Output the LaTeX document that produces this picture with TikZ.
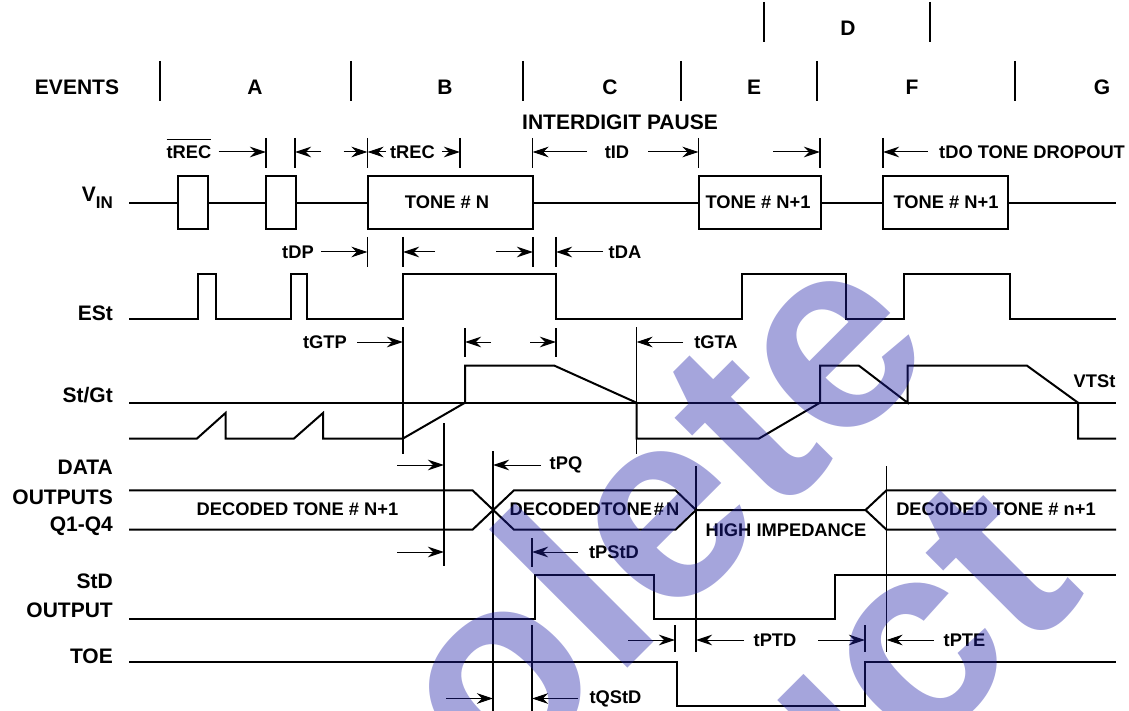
\documentclass[tikz,border=0pt]{standalone}
\usepackage{fontspec}
\setmainfont{Liberation Sans}
\usepackage{xcolor}
\usetikzlibrary{arrows.meta}
\definecolor{stampblue}{RGB}{30,30,167}
\tikzset{
    biglabel/.style={font=\bfseries\fontsize{21}{24}\selectfont, inner sep=0pt},
    siglabel/.style={biglabel, anchor=east},
    timelabel/.style={font=\bfseries\fontsize{18.3}{22}\selectfont, inner sep=0pt},
    wave/.style={line width=2pt, line join=miter},
    tick/.style={line width=1.5pt},
    eventtick/.style={line width=2pt},
    timearrow/.style={line width=1pt, -{Stealth[length=16pt, width=10.5pt, inset=5pt]}},
    stamp/.style={font=\bfseries\fontsize{270}{275}\selectfont, inner sep=0pt, anchor=base west, rotate=45, text=stampblue, text opacity=0.4}
}

\begin{document}
\begin{tikzpicture}[x=1pt, y=-1pt]
    \useasboundingbox (0, 0) rectangle (1129, 711);
    \clip (0, 0) rectangle (1129, 711);

    % event ticks
    \draw[eventtick]
    (764, 2) -- (764, 42)
    (930, 2) -- (930, 42)
    (160, 61) -- (160, 101)
    (351, 61) -- (351, 101)
    (523, 61) -- (523, 101)
    (681, 61) -- (681, 101)
    (817, 61) -- (817, 101)
    (1015, 61) -- (1015, 101);

    \node[biglabel] (evD) at (848, 28) {D};
    \node[biglabel] (evName) at (77, 87) {EVENTS};
    \node[biglabel] (evA) at (255, 87) {A};
    \node[biglabel] (evB) at (445, 87) {B};
    \node[biglabel] (evC) at (610, 87) {C};
    \node[biglabel] (evE) at (754, 87) {E};
    \node[biglabel] (evF) at (912, 87) {F};
    \node[biglabel] (evG) at (1102, 87) {G};
    \node[biglabel] (pause) at (620, 122) {INTERDIGIT PAUSE};

    % signal names
    \node[siglabel] (vin) at (113, 198) {V\raisebox{-.32em}{\fontsize{17}{17}\selectfont IN}};
    \node[siglabel] (est) at (113, 313) {ESt};
    \node[siglabel] (stgt) at (113, 395) {St/Gt};
    \node[siglabel] (data) at (113, 467) {DATA};
    \node[siglabel] (outs) at (113, 497) {OUTPUTS};
    \node[siglabel] (qs) at (113, 526) {Q1-Q4};
    \node[siglabel] (std) at (113, 581) {StD};
    \node[siglabel] (stdout) at (113, 610) {OUTPUT};
    \node[siglabel] (toe) at (113, 656) {TOE};

    % waveforms
    \draw[wave]
    (129, 203.5) -- (178, 203.5) -- (178, 176.5) -- (208, 176.5) -- (208, 229) -- (178, 229) -- (178, 203.5)
    (208, 203.5) -- (266, 203.5) -- (266, 176.5) -- (296, 176.5) -- (296, 229) -- (266, 229) -- (266, 203.5)
    (296, 203.5) -- (367.5, 203.5) -- (367.5, 176.5) -- (533, 176.5) -- (533, 229) -- (367.5, 229) -- (367.5, 203.5)
    (533, 203.5) -- (698.5, 203.5) -- (698.5, 176.5) -- (820.5, 176.5) -- (820.5, 229) -- (698.5, 229) -- (698.5, 203.5)
    (820.5, 203.5) -- (883, 203.5) -- (883, 176.5) -- (1008, 176.5) -- (1008, 229) -- (883, 229) -- (883, 203.5)
    (1008, 203.5) -- (1116, 203.5);

    \draw[wave]
    (129, 319) -- (198, 319) -- (198, 273.5) -- (216, 273.5) -- (216, 319) -- (291, 319) -- (291, 273.5)
    -- (307, 273.5) -- (307, 319) -- (403, 319) -- (403, 273.5) -- (556, 273.5) -- (556, 319)
    -- (741.5, 319) -- (741.5, 273.5) -- (845.5, 273.5) -- (845.5, 319) -- (904, 319) -- (904, 273.5)
    -- (1009.5, 273.5) -- (1009.5, 319) -- (1116, 319);

    \draw[wave] (129, 402.7) -- (1116, 402.7);
    \draw[wave]
    (129, 438.5) -- (197, 438.5) -- (225.5, 413) -- (225.5, 438.5) -- (294, 438.5) -- (323, 413) -- (323, 438.5)
    -- (403, 438.5) -- (465, 402.7) -- (465, 365.7) -- (554.5, 365.7) -- (636.5, 402.7) -- (636.5, 438.5)
    -- (759, 438.5) -- (820, 402.7) -- (820, 365.7) -- (859, 365.7) -- (907.5, 402.7) -- (907.5, 365.7)
    -- (1027, 365.7) -- (1078, 402.7) -- (1078, 438.5) -- (1116, 438.5);

    \draw[wave]
    (129, 490.3) -- (472.5, 490.3) -- (514, 529.7) -- (675.5, 529.7) -- (696, 510)
    (129, 529.7) -- (472.5, 529.7) -- (514, 490.3) -- (675.5, 490.3) -- (696, 510)
    -- (865.5, 510) -- (886.5, 490.3) -- (1116, 490.3)
    (865.5, 510) -- (886.5, 529.7) -- (1116, 529.7);

    \draw[wave]
    (129, 618.5) -- (534.5, 618.5) -- (534.5, 574.5) -- (654, 574.5) -- (654, 618.5)
    -- (835, 618.5) -- (835, 574.5) -- (1116, 574.5);

    \draw[wave]
    (129, 662.3) -- (677, 662.3) -- (677, 706) -- (865, 706) -- (865, 662.3) -- (1116, 662.3);

    % timing ticks
    \draw[tick]
    (266, 138) -- (266, 168)
    (295, 138) -- (295, 168)
    (367.5, 138) -- (367.5, 168)
    (460, 138) -- (460, 168)
    (532.5, 138) -- (532.5, 168)
    (698.5, 138) -- (698.5, 168)
    (820, 138) -- (820, 168)
    (883, 138) -- (883, 168)
    (367.5, 237) -- (367.5, 267)
    (403, 237) -- (403, 267)
    (533, 237) -- (533, 267)
    (556, 237) -- (556, 267)
    (403, 327) -- (403, 454)
    (465, 328) -- (465, 357)
    (556, 328) -- (556, 357)
    (636.5, 327) -- (636.5, 454)
    (444, 423) -- (444, 566)
    (493, 451) -- (493, 711)
    (696, 466) -- (696, 652)
    (886.5, 466) -- (886.5, 652)
    (532, 538) -- (532, 567)
    (675, 625) -- (675, 652)
    (865, 625) -- (865, 652)
    (532, 625) -- (532, 711);

    % timing arrows
    \draw[timearrow] (218.5, 152) -- (266, 152);
    \draw[timearrow] (321, 152) -- (295, 152);
    \draw[timearrow] (343.5, 152) -- (367.5, 152);
    \draw[timearrow] (386, 152) -- (367.5, 152);
    \draw[timearrow] (442, 152) -- (460, 152);
    \draw[timearrow] (587, 152) -- (532.5, 152);
    \draw[timearrow] (648, 152) -- (698.5, 152);
    \draw[timearrow] (773, 152) -- (820, 152);
    \draw[timearrow] (927.5, 152) -- (883, 152);
    \draw[timearrow] (321, 252) -- (367.5, 252);
    \draw[timearrow] (435, 252) -- (403, 252);
    \draw[timearrow] (496, 252) -- (533, 252);
    \draw[timearrow] (603, 252) -- (556, 252);
    \draw[timearrow] (357, 342) -- (403, 342);
    \draw[timearrow] (491, 342) -- (465, 342);
    \draw[timearrow] (530, 342) -- (556, 342);
    \draw[timearrow] (683, 342) -- (636.5, 342);
    \draw[timearrow] (397, 465) -- (444, 465);
    \draw[timearrow] (541, 465) -- (493, 465);
    \draw[timearrow] (397, 552) -- (444, 552);
    \draw[timearrow] (578, 552) -- (532, 552);
    \draw[timearrow] (628, 640) -- (675, 640);
    \draw[timearrow] (744, 640) -- (696, 640);
    \draw[timearrow] (818, 640) -- (865, 640);
    \draw[timearrow] (933.5, 640) -- (886.5, 640);
    \draw[timearrow] (446, 698.5) -- (493, 698.5);
    \draw[timearrow] (578, 698.5) -- (532, 698.5);

    % timing names
    \node[timelabel, anchor=base] (trecbar) at (189, 158.5) {$\overline{\mbox{\rule{0pt}{.98em}tREC}}$};
    \node[timelabel] (trec) at (412.5, 152) {tREC};
    \node[timelabel] (tid) at (617, 152) {tID};
    \node[timelabel, anchor=west] (tdo) at (939, 152) {tDO TONE DROPOUT};
    \node[timelabel] (tdp) at (298, 252) {tDP};
    \node[timelabel] (tda) at (625, 252) {tDA};
    \node[timelabel] (tgtp) at (325, 342) {tGTP};
    \node[timelabel] (tgta) at (716, 342) {tGTA};
    \node[timelabel] (vtst) at (1094.5, 381) {VTSt};
    \node[timelabel] (tpq) at (566, 465) {tPQ};
    \node[timelabel] (tpstd) at (614, 552) {tPStD};
    \node[timelabel] (tptd) at (775, 640) {tPTD};
    \node[timelabel] (tpte) at (964.5, 640) {tPTE};
    \node[timelabel] (tqstd) at (615.5, 699) {tQStD};

    % tone names
    \node[timelabel] (tonen) at (447, 202) {TONE \# N};
    \node[timelabel] (tonea) at (758, 202) {TONE \# N+1};
    \node[timelabel] (toneb) at (946, 202) {TONE \# N+1};
    \node[timelabel] (deca) at (297.5, 509) {DECODED TONE \# N+1};
    \node[timelabel] (decb) at (594.5, 509) {DECODED\hspace{.02em}TONE\hspace{.11em}\#\hspace{.11em}N};
    \node[timelabel] (decc) at (996, 509) {DECODED TONE \# n+1};
    \node[timelabel] (highz) at (786, 530) {HIGH IMPEDANCE};

    % stamp across the page
    \node[stamp] (stampa) at (125.9, 1169.3) {Obsolete};
    \node[stamp] (stampb) at (366.3, 1313.9) {Product};
\end{tikzpicture}
\end{document}
